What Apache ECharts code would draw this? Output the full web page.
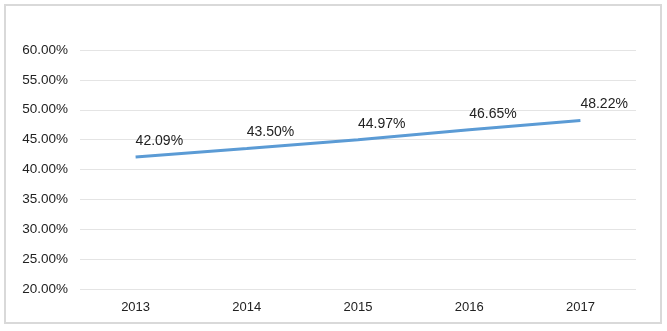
<!DOCTYPE html>
<html><head><meta charset="utf-8">
<script src="https://cdn.jsdelivr.net/npm/echarts@6/dist/echarts.min.js"></script>
<style>html,body{margin:0;padding:0;background:#fff}#c{width:667px;height:331px}</style>
</head><body><div id="c"></div>
<script>
const categories = ['2013','2014','2015','2016','2017'];
const values = [42.09, 43.50, 44.97, 46.65, 48.22];
const yMin = 20, yMax = 60, yStep = 5;

const chart = echarts.init(document.getElementById('c'), null, {renderer:'canvas'});
chart.setOption({
  animation:false,
  backgroundColor:'#fff',
  textStyle:{fontFamily:'Liberation Sans, Arial, sans-serif'},
  graphic:[{type:'rect', shape:{x:5,y:5,width:656,height:318}, style:{fill:'none', stroke:'#d9d9d9', lineWidth:2}, silent:true}],
  grid:{left:80, right:31, top:50, bottom:42, containLabel:false},
  xAxis:{type:'category', data:categories, boundaryGap:true,
    axisLine:{show:false}, axisTick:{show:false},
    axisLabel:{color:'#222', fontSize:13, margin:12}},
  yAxis:{type:'value', min:yMin, max:yMax, interval:yStep,
    axisLine:{show:false}, axisTick:{show:false},
    axisLabel:{color:'#222', fontSize:13.5, margin:12, formatter:v=>v.toFixed(2)+'%'},
    splitLine:{lineStyle:{color:'#e4e4e4', width:1}}},
  series:[{type:'line', data:values, symbol:'circle', symbolSize:2, showSymbol:true,
    itemStyle:{color:'rgba(91,155,213,0)', borderWidth:0},
    lineStyle:{color:'#5b9bd5', width:3},
    labelLayout:{hideOverlap:false},
    label:{show:true, position:'top', distance:8, align:'left', offset:[-1,0], color:'#222', fontSize:14,
      formatter:p=>p.value.toFixed(2)+'%'}}]
});
</script></body></html>
